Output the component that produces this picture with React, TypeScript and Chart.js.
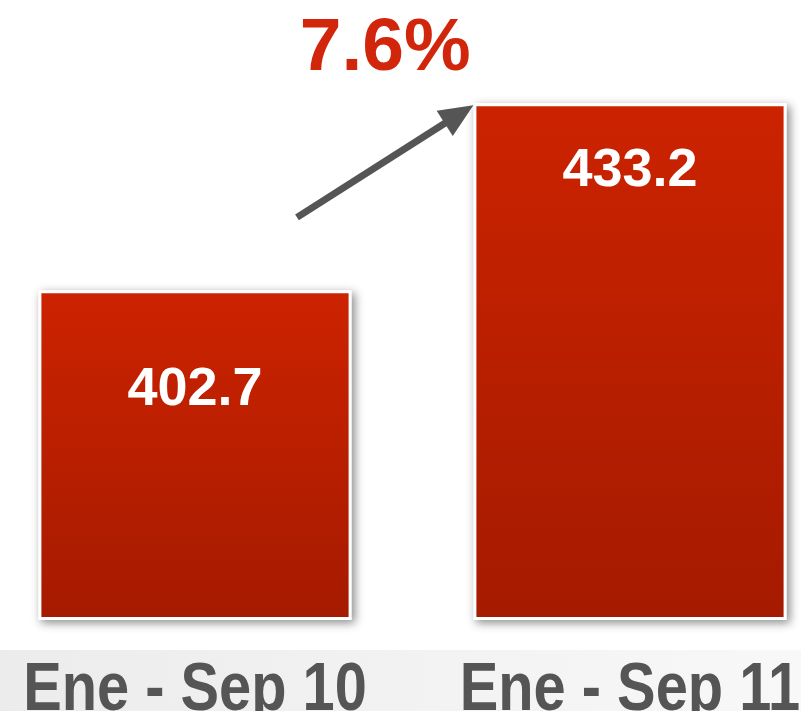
import React, { useEffect, useRef } from "react";
import { Chart, registerables } from "chart.js";

Chart.register(...registerables);

const categories = ["Ene - Sep 10", "Ene - Sep 11"];
const values = [402.7, 433.2];
const yMin = 349;
const yMax = 450;

const valueLabelBaselineOffsets = [115, 83];

export default function App() {
  const ref = useRef<HTMLCanvasElement | null>(null);

  useEffect(() => {
    const canvas = ref.current;
    if (!canvas) return;

    const bandPlugin = {
      id: "band",
      beforeDraw(chart: any) {
        const { ctx, width, height } = chart;
        ctx.save();
        ctx.fillStyle = "#ffffff";
        ctx.fillRect(0, 0, width, height);
        const g = ctx.createLinearGradient(0, 0, width, 0);
        g.addColorStop(0, "#ececec");
        g.addColorStop(1, "#f8f8f8");
        ctx.fillStyle = g;
        ctx.fillRect(0, 650, width, height - 650);
        ctx.restore();
      },
    };

    const shadowPlugin = {
      id: "barShadow",
      beforeDatasetsDraw(chart: any) {
        const { ctx } = chart;
        const meta = chart.getDatasetMeta(0);
        ctx.save();
        ctx.shadowColor = "rgba(0,0,0,0.45)";
        ctx.shadowBlur = 9;
        ctx.shadowOffsetX = 3;
        ctx.shadowOffsetY = 3;
        ctx.fillStyle = "#ffffff";
        meta.data.forEach((el: any) => {
          const p = el.getProps(["x", "y", "base", "width"], true);
          ctx.fillRect(p.x - p.width / 2, p.y, p.width, p.base - p.y);
        });
        ctx.restore();
      },
    };

    const axisLabelPlugin = {
      id: "axisLabels",
      afterDraw(chart: any) {
        const { ctx } = chart;
        const xs = chart.scales.x;
        const labels = chart.data.labels as string[];
        const sx = 0.85;
        ctx.save();
        ctx.fillStyle = "#555555";
        ctx.textAlign = "center";
        ctx.textBaseline = "alphabetic";
        ctx.font = "bold 68px 'Liberation Sans', Arial, sans-serif";
        labels.forEach((lab, i) => {
          const px = xs.getPixelForTick(i);
          ctx.save();
          ctx.translate(px, 710);
          ctx.scale(sx, 1);
          ctx.fillText(lab, 0, 0);
          ctx.restore();
        });
        ctx.restore();
      },
    };

    const labelsPlugin = {
      id: "annot",
      afterDatasetsDraw(chart: any) {
        const { ctx } = chart;
        const meta = chart.getDatasetMeta(0);
        ctx.save();
        ctx.fillStyle = "#ffffff";
        ctx.textAlign = "center";
        ctx.textBaseline = "alphabetic";
        ctx.font = "bold 54px 'Liberation Sans', Arial, sans-serif";
        meta.data.forEach((el: any, i: number) => {
          ctx.fillText(values[i].toFixed(1), el.x, el.y + valueLabelBaselineOffsets[i]);
        });

        // arrow
        const b1 = meta.data[0];
        const b2 = meta.data[1];
        const tx = b1.x + 102;
        const ty = b1.y - 73;
        const hx = b2.x - b2.width / 2;
        const hy = b2.y + 2;
        const ang = Math.atan2(hy - ty, hx - tx);
        const headLen = 34;
        const headHalf = 15;
        const bx = hx - headLen * Math.cos(ang);
        const by = hy - headLen * Math.sin(ang);
        ctx.strokeStyle = "#555555";
        ctx.fillStyle = "#555555";
        ctx.lineWidth = 7;
        ctx.beginPath();
        ctx.moveTo(tx, ty);
        ctx.lineTo(bx + 2 * Math.cos(ang), by + 2 * Math.sin(ang));
        ctx.stroke();
        ctx.beginPath();
        ctx.moveTo(hx, hy);
        ctx.lineTo(bx + headHalf * Math.sin(ang), by - headHalf * Math.cos(ang));
        ctx.lineTo(bx - headHalf * Math.sin(ang), by + headHalf * Math.cos(ang));
        ctx.closePath();
        ctx.fill();

        // percent change
        const pct = ((values[1] / values[0] - 1) * 100).toFixed(1) + "%";
        ctx.fillStyle = "#d2260c";
        ctx.font = "bold 75px 'Liberation Sans', Arial, sans-serif";
        ctx.fillText(pct, (tx + hx) / 2, 70);
        ctx.restore();
      },
    };

    const chart = new Chart(canvas, {
      type: "bar",
      data: {
        labels: categories,
        datasets: [
          {
            data: values,
            base: yMin,
            clip: false as any,
            borderColor: "#ffffff",
            borderWidth: 3,
            borderSkipped: false,
            barPercentage: 0.72,
            categoryPercentage: 1,
            backgroundColor: (ctx: any) => {
              const chart = ctx.chart;
              const area = chart.chartArea;
              if (!area || ctx.dataIndex === undefined) return "#bb2000";
              const y = chart.scales.y.getPixelForValue(values[ctx.dataIndex]);
              const g = chart.ctx.createLinearGradient(0, y, 0, area.bottom);
              g.addColorStop(0, "#cc2300");
              g.addColorStop(1, "#a51a00");
              return g;
            },
          } as any,
        ],
      },
      options: {
        responsive: false,
        maintainAspectRatio: false,
        animation: false,
        layout: { padding: { left: 195, right: 171, top: 0, bottom: 0 } },
        plugins: {
          legend: { display: false },
          tooltip: { enabled: false },
          title: { display: false },
        },
        scales: {
          x: {
            offset: false,
            grid: { display: false, drawTicks: false },
            border: { display: false },
            ticks: { display: false },
            afterFit: (scale: any) => {
              scale.height = 91;
            },
          },
          y: {
            display: false,
            min: yMin,
            max: yMax,
          },
        },
      },
      plugins: [bandPlugin, shadowPlugin, labelsPlugin, axisLabelPlugin],
    });

    return () => chart.destroy();
  }, []);

  return (
    <div style={{ position: "fixed", left: 0, top: 0, width: 801, height: 711 }}>
      <canvas ref={ref} width={801} height={711} />
    </div>
  );
}
